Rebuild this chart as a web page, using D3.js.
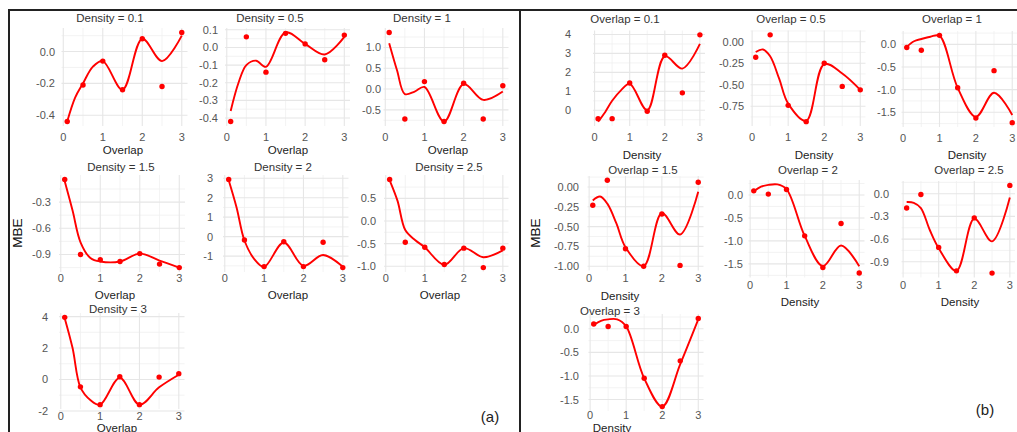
<!DOCTYPE html>
<meta charset="utf-8">
<script src="https://d3js.org/d3.v7.min.js"></script>
<style>
  body { margin: 0; background: #fff; }
  text { font-family: "Liberation Sans", Arial, sans-serif; }
</style>
<body>
<svg id="chart" width="1017" height="432"></svg>
<script>
// x positions of the simulated points, and of the values
var xs = [0.1, 0.5, 1, 1.5, 2, 2.5, 3];
var fitXs = [0.1, 0.3, 0.5, 0.75, 1, 1.5, 2, 2.5, 3];
var xTicks = [0, 1, 2, 3];
var levels = ["0.1", "0.5", "1", "1.5", "2", "2.5", "3"];

// (a) MBE against Overlap, one facet per Density
var mbeByDensity = [
  [-0.44, -0.21, -0.06, -0.24, 0.08, -0.22, 0.12],
  [-0.42, 0.06, -0.14, 0.08, 0.02, -0.07, 0.07],
  [1.36, -0.72, 0.18, -0.78, 0.14, -0.72, 0.08],
  [-0.04, -0.9, -0.96, -0.98, -0.89, -1.01, -1.05],
  [2.94, -0.17, -1.54, -0.26, -1.54, -0.29, -1.59],
  [0.92, -0.47, -0.58, -0.96, -0.6, -1.03, -0.6],
  [3.95, -0.47, -1.6, 0.17, -1.6, 0.15, 0.37]
];
var fitByDensity = [
  [-0.44, -0.29, -0.2, -0.095, -0.06, -0.24, 0.08, -0.06, 0.1],
  [-0.36, -0.2, -0.1, -0.075, -0.11, 0.085, 0.02, -0.04, 0.06],
  [1.1, 0.45, -0.12, -0.06, 0.05, -0.78, 0.12, -0.26, -0.06],
  [-0.06, -0.4, -0.76, -0.94, -0.98, -0.98, -0.89, -0.97, -1.05],
  [2.9, 1.5, -0.2, -1.15, -1.55, -0.3, -1.5, -0.94, -1.55],
  [0.9, 0.45, -0.2, -0.42, -0.58, -0.97, -0.6, -0.8, -0.65],
  [3.9, 2.0, -0.5, -1.3, -1.6, 0.1, -1.6, -0.5, 0.3]
];
var ticksByDensity = [
  ["-0.4", "-0.2", "0.0"],
  ["-0.4", "-0.3", "-0.2", "-0.1", "0.0", "0.1"],
  ["-0.5", "0.0", "0.5", "1.0"],
  ["-0.9", "-0.6", "-0.3"],
  ["-1", "0", "1", "2", "3"],
  ["-1.0", "-0.5", "0.0", "0.5"],
  ["-2", "0", "2", "4"]
];

// (b) MBE against Density, one facet per Overlap
var mbeByOverlap = [
  [-0.44, -0.44, 1.44, -0.05, 2.9, 0.92, 3.98],
  [-0.18, 0.08, -0.74, -0.93, -0.25, -0.52, -0.56],
  [-0.07, -0.13, 0.2, -0.96, -1.63, -0.58, -1.73],
  [-0.23, 0.085, -0.78, -1.0, -0.34, -0.99, 0.06],
  [0.09, 0.02, 0.12, -0.89, -1.58, -0.62, -1.7],
  [-0.19, -0.01, -0.71, -1.02, -0.32, -1.05, 0.11],
  [0.1, 0.05, 0.05, -1.05, -1.65, -0.68, 0.22]
];
var fitByOverlap = [
  [-0.6, -0.1, 0.5, 1.05, 1.4, 0.0, 2.85, 2.2, 3.5],
  [-0.12, -0.09, -0.17, -0.43, -0.72, -0.92, -0.26, -0.37, -0.56],
  [-0.05, 0.07, 0.12, 0.17, 0.19, -0.96, -1.6, -1.07, -1.56],
  [-0.17, -0.12, -0.21, -0.46, -0.76, -1.0, -0.33, -0.6, -0.06],
  [0.08, 0.18, 0.22, 0.23, 0.13, -0.89, -1.55, -1.1, -1.55],
  [-0.11, -0.12, -0.19, -0.48, -0.72, -1.02, -0.33, -0.63, -0.05],
  [0.08, 0.17, 0.2, 0.2, 0.05, -1.05, -1.65, -0.75, 0.2]
];
var ticksByOverlap = [
  ["0", "1", "2", "3", "4"],
  ["-0.75", "-0.50", "-0.25", "0.00"],
  ["-1.5", "-1.0", "-0.5", "0.0"],
  ["-1.00", "-0.75", "-0.50", "-0.25", "0.00"],
  ["-1.5", "-1.0", "-0.5", "0.0"],
  ["-0.9", "-0.6", "-0.3", "0.0"],
  ["-1.5", "-1.0", "-0.5", "0.0"]
];

// where each small plot sits (the figure is a hand-made collage, so rows are not regular)
var layoutA = [
  {x: 61.5, y: 28, w: 126, h: 98, lab: 55, tx: 110, ty: 22, tickY: 141, xlx: 123, xly: 154},
  {x: 225, y: 28, w: 125, h: 98, lab: 218, tx: 270, ty: 22, tickY: 141, xlx: 288, xly: 154},
  {x: 383.5, y: 28, w: 125, h: 98, lab: 381, tx: 422, ty: 22, tickY: 141, xlx: 448, xly: 154},
  {x: 59, y: 175, w: 126, h: 97, lab: 51, tx: 121, ty: 171, tickY: 282, xlx: 115, xly: 299},
  {x: 223, y: 175, w: 125.5, h: 97, lab: 213, tx: 283, ty: 171, tickY: 282, xlx: 288, xly: 299},
  {x: 384, y: 175, w: 124.5, h: 97, lab: 376, tx: 449, ty: 171, tickY: 282, xlx: 440, xly: 299},
  {x: 59, y: 313, w: 125.5, h: 96, lab: 48, tx: 118, ty: 313, tickY: 420, xlx: 117, xly: 431.5}
];
var layoutB = [
  {x: 593, y: 30.5, w: 112, h: 95.5, lab: 571, tx: 625, ty: 22.5, tickY: 141, xlx: 642, xly: 159},
  {x: 750.5, y: 30.5, w: 115, h: 95.5, lab: 744, tx: 791, ty: 22.5, tickY: 141, xlx: 814, xly: 159},
  {x: 901.5, y: 31, w: 116, h: 96, lab: 896, tx: 952, ty: 22.5, tickY: 142, xlx: 967, xly: 159},
  {x: 587.5, y: 176, w: 116, h: 94.5, lab: 579, tx: 643, ty: 173.5, tickY: 282, xlx: 620, xly: 300},
  {x: 748.5, y: 180, w: 116, h: 97.5, lab: 743, tx: 808, ty: 173.5, tickY: 289, xlx: 800, xly: 306},
  {x: 901.5, y: 181, w: 113.5, h: 96.5, lab: 889, tx: 969, ty: 173.5, tickY: 289, xlx: 960, xly: 306},
  {x: 588.5, y: 314, w: 115, h: 97, lab: 579, tx: 610, ty: 315, tickY: 419, xlx: 612, xly: 431.5}
];

var svg = d3.select("#chart");

function drawPanel(L, pts, fit, ticks, title, xlab) {
  var x = d3.scaleLinear().domain([-0.045, 3.145]).range([L.x, L.x + L.w]);
  var ext = d3.extent(pts.concat(fit));
  var pad = (ext[1] - ext[0]) * 0.05;
  var y = d3.scaleLinear().domain([ext[0] - pad, ext[1] + pad]).range([L.y + L.h, L.y]);
  var yt = ticks.map(function(t) { return +t; });

  // minor breaks halfway between majors (and one step past either end when still inside)
  var step = yt[1] - yt[0];
  var yMinor = [];
  for (var i = -1; i < yt.length; i++) {
    var m = yt[0] + (i + 0.5) * step;
    if (m >= y.domain()[0] && m <= y.domain()[1]) yMinor.push(m);
  }
  var xMinor = [0.5, 1.5, 2.5];

  var g = svg.append("g");
  g.selectAll(".ymin").data(yMinor).enter().append("line")
    .attr("x1", L.x).attr("x2", L.x + L.w)
    .attr("y1", function(d) { return y(d); }).attr("y2", function(d) { return y(d); })
    .attr("stroke", "#f0f0f0").attr("stroke-width", 0.8);
  g.selectAll(".xmin").data(xMinor).enter().append("line")
    .attr("y1", L.y).attr("y2", L.y + L.h)
    .attr("x1", function(d) { return x(d); }).attr("x2", function(d) { return x(d); })
    .attr("stroke", "#f0f0f0").attr("stroke-width", 0.8);
  g.selectAll(".ymaj").data(yt).enter().append("line")
    .attr("x1", L.x).attr("x2", L.x + L.w)
    .attr("y1", function(d) { return y(d); }).attr("y2", function(d) { return y(d); })
    .attr("stroke", "#e6e6e6").attr("stroke-width", 1.1);
  g.selectAll(".xmaj").data(xTicks).enter().append("line")
    .attr("y1", L.y).attr("y2", L.y + L.h)
    .attr("x1", function(d) { return x(d); }).attr("x2", function(d) { return x(d); })
    .attr("stroke", "#e6e6e6").attr("stroke-width", 1.1);

  g.selectAll(".ylab").data(ticks).enter().append("text")
    .attr("x", L.lab).attr("y", function(d) { return y(+d) + 4; })
    .attr("text-anchor", "end").attr("font-size", 11).attr("fill", "#555")
    .text(function(d) { return d; });
  g.selectAll(".xlab").data(xTicks).enter().append("text")
    .attr("x", function(d) { return x(d); }).attr("y", L.tickY)
    .attr("text-anchor", "middle").attr("font-size", 11).attr("fill", "#555")
    .text(function(d) { return d; });

  var line = d3.line()
    .x(function(d, i) { return x(fitXs[i]); })
    .y(function(d) { return y(d); })
    .curve(d3.curveCatmullRom.alpha(0.5));
  g.append("path").datum(fit).attr("d", line)
    .attr("fill", "none").attr("stroke", "#ff0000").attr("stroke-width", 1.9);

  g.selectAll(".pt").data(pts).enter().append("circle")
    .attr("cx", function(d, i) { return x(xs[i]); })
    .attr("cy", function(d) { return y(d); })
    .attr("r", 2.7).attr("fill", "#ff0000");

  g.append("text").attr("x", L.tx).attr("y", L.ty)
    .attr("text-anchor", "middle").attr("font-size", 11.5).attr("fill", "#333")
    .text(title);
  g.append("text").attr("x", L.xlx).attr("y", L.xly)
    .attr("text-anchor", "middle").attr("font-size", 11.5).attr("fill", "#222")
    .text(xlab);
}

for (var k = 0; k < 7; k++) {
  drawPanel(layoutA[k], mbeByDensity[k], fitByDensity[k], ticksByDensity[k], "Density = " + levels[k], "Overlap");
  drawPanel(layoutB[k], mbeByOverlap[k], fitByOverlap[k], ticksByOverlap[k], "Overlap = " + levels[k], "Density");
}

// y titles
svg.append("text").attr("transform", "translate(22,233) rotate(-90)")
  .attr("text-anchor", "middle").attr("font-size", 13.5).attr("fill", "#111").text("MBE");
svg.append("text").attr("transform", "translate(540,233) rotate(-90)")
  .attr("text-anchor", "middle").attr("font-size", 13.5).attr("fill", "#111").text("MBE");

// figure labels
svg.append("text").attr("x", 490).attr("y", 422).attr("text-anchor", "middle")
  .attr("font-size", 15).attr("fill", "#222").text("(a)");
svg.append("text").attr("x", 985).attr("y", 415).attr("text-anchor", "middle")
  .attr("font-size", 15).attr("fill", "#222").text("(b)");

// frame around the two figures
var frame = svg.append("g").attr("stroke", "#222").attr("stroke-width", 2);
frame.append("line").attr("x1", 8).attr("x2", 1017).attr("y1", 10).attr("y2", 10);
frame.append("line").attr("x1", 9).attr("x2", 9).attr("y1", 10).attr("y2", 432);
frame.append("line").attr("x1", 520).attr("x2", 520).attr("y1", 10).attr("y2", 432);
</script>
</body>
